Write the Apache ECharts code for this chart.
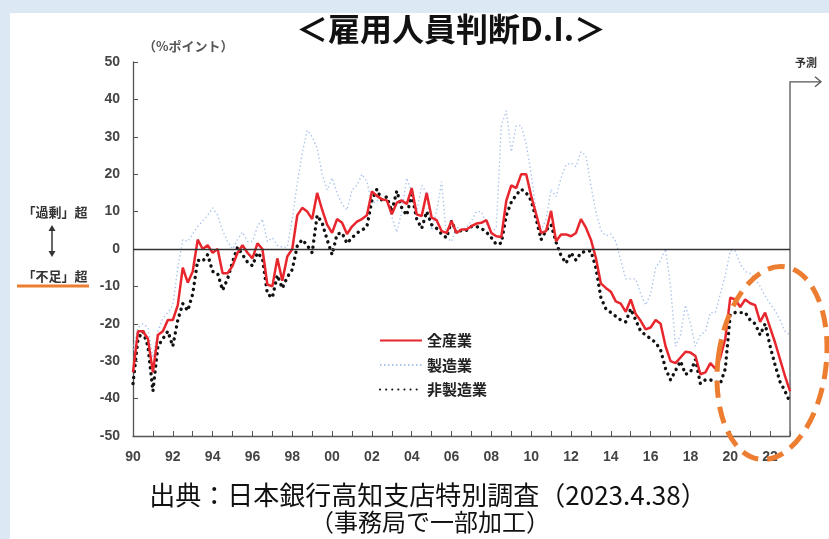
<!DOCTYPE html>
<html><head><meta charset="utf-8">
<script src="https://cdn.jsdelivr.net/npm/echarts@6/dist/echarts.min.js"></script>
<style>
html,body{margin:0;padding:0;background:#dde8f5;}
#panel{position:absolute;left:10px;top:13px;width:819px;height:526px;background:#fff;}
#c{position:absolute;left:0;top:0;width:829px;height:539px;}
</style>
</head><body><div id="panel"></div><div id="c"></div>
<script>
// ---- data ----
const startYear = 1990;
const quarterCount = 133; // 1990Q1 .. 2023Q1
const categories = [];
for (let i = 0; i < quarterCount; i++) {
  categories.push((startYear + Math.floor(i / 4)) + 'Q' + (i % 4 + 1));
}
const yearTickLabels = ['90','92','94','96','98','00','02','04','06','08','10','12','14','16','18','20','22'];
const yTicks = { min: -50, max: 50, step: 10 };
const seriesNames = ['全産業', '製造業', '非製造業'];

const allIndustries = [
 -33,-22,-22,-24, -33,-23,-22,-19, -19,-15,-5,-9, -6,2.5,0,1, -1,0,-6.5,-6.5,
 -4.5,-1,1,-1, -2.5,1.5,0,-9.5, -10,-2.5,-8.5,-2, 0,9,11,10, 8,15,10.5,6.5,
 4.3,8,7,4, 6,7.3,8,9, 15.4,14.2,13.3,13, 9.3,12.4,13,12, 16.3,9.3,8.8,15,
 8.4,7.7,4.8,4.3, 7.5,4.3,5.2,5.2, 6.1,6.8,7,7.7, 4.3,3.4,3.2,12.9, 17,16.3,20,20,
 14.2,9.3,4.3,4.8, 10.2,2.1,3.9,3.9, 3.4,4.3,8,5.7, 2.5,-2.4,-9.2,-10.4, -11.4,-14,-14.6,-16.8,
 -13.5,-17.4,-19.2,-21.5, -21,-19,-20,-26, -30,-30.5,-29,-27.5, -27.7,-28.6,-33.5,-33, -30.5,-32,-29,-24,
 -13,-13.5,-15.5,-13.5, -14.5,-15,-19.5,-17, -21,-25,-29.5,-34, -38
];
const manufacturing = [
 -27,-21,-20,-21, -29,-22,-18.5,-17, -15,-5,2.5,2, 4,6,7.5,9, 11,9,5,2,
 0,2.5,4.5,2, 2,6,8,2, 3,1,0.5,0.5, 8,17.6,25.6,31.8, 30,27,20,15.8,
 19,15,12,10.4, 15.8,17,20,18, 12,13,13,13, 8.6,4.5,10,19, 15,10,17,15,
 5,10,18,3, 2,6,5,5.8, 7.5,10,10,7, 4,6,33,37, 26,33,33,28,
 20,10,5,8, 16,14,19,22.5, 23,22,26,25, 17,10,5,3.5, 4,2,-3,-8,
 -8,-8,-12,-15, -12,-5,-3,0, -10,-26,-23,-15, -20,-26,-23,-22, -17,-17,-12,-7,
 -0.5,-0.5,-4,-6, -6.5,-8,-10,-12.5, -14.7,-16.5,-19,-22, -23
];
const nonManufacturing = [
 -36,-24,-22,-26, -38,-26,-24,-22, -26,-19,-14.6,-16.5, -12,-3,-3.3,-1.5, -6,-6.5,-11,-8,
 -3.5,0.5,-1.5,-3.5, -4.5,-1,-2.5,-12, -13,-7,-10.5,-7.5, -5.5,0.8,2.5,1, -1,9,7,2.5,
 -1.5,4,4.3,1.5, 3,4.3,5,6, 13,16,13,14, 10,15.5,11,9, 14.5,8,5.5,10,
 6.5,5.5,4,3, 7.5,4.3,5,5, 6,6,5.5,4.5, 3,1.2,1.6,9, 12.5,14.5,16,15,
 13,8,2.5,5, 6.5,1.8,-1.8,-3.8, -1,-3,-1,-0.6, -0.5,-5,-13,-16, -17,-18,-19,-19.5,
 -16,-19,-22,-23, -24,-25,-27,-32, -35,-32.5,-30,-33.5, -33,-29.5,-36,-35, -35,-35.5,-36,-32,
 -17.5,-17,-17,-17, -19,-20,-23,-20, -26,-31,-35.5,-38, -41
];

// ---- chart ----
const FONT = '"Noto Sans CJK JP", "Noto Sans", sans-serif';
const NUMFONT = '"Liberation Sans", Arial, sans-serif';
const chart = echarts.init(document.getElementById('c'), null, { renderer: 'canvas' });

const option = {
  backgroundColor: 'transparent',
  animation: false,
  textStyle: { fontFamily: FONT },
  grid: { left: 133, right: 39, top: 62, bottom: 103 },
  legend: {
    orient: 'vertical', left: 374, top: 328, itemWidth: 42, itemHeight: 12, itemGap: 9.5,
    itemStyle: { opacity: 0 },
    textStyle: { fontSize: 15, color: '#222', fontWeight: 'bold', fontFamily: FONT },
    data: seriesNames
  },
  xAxis: {
    type: 'category', data: categories, boundaryGap: false,
    axisLine: { onZero: false, lineStyle: { color: '#555', width: 1.3 } },
    axisTick: { inside: true, length: 5, interval: (i) => i % 4 === 0, lineStyle: { color: '#555' } },
    axisLabel: {
      interval: (i) => i % 8 === 0,
      formatter: (v, i) => yearTickLabels[i / 8],
      color: '#444', fontSize: 14, fontWeight: 'bold', fontFamily: NUMFONT, margin: 14
    },
    splitLine: { show: false }
  },
  yAxis: {
    type: 'value', min: yTicks.min, max: yTicks.max, interval: yTicks.step,
    axisLine: { show: true, lineStyle: { color: '#555', width: 1.3 } },
    axisTick: { show: true, inside: true, length: 5, lineStyle: { color: '#555' } },
    axisLabel: { color: '#444', fontSize: 14, fontWeight: 'bold', fontFamily: NUMFONT, margin: 13 },
    splitLine: { show: false }
  },
  series: [
    {
      name: seriesNames[0], type: 'line', data: allIndustries, symbol: 'none', z: 4,
      itemStyle: { color: '#e8262d' },
      lineStyle: { color: '#e8262d', width: 2.5 }
    },
    {
      name: seriesNames[1], type: 'line', data: manufacturing, symbol: 'none', z: 2,
      itemStyle: { color: '#a9c3ec' },
      lineStyle: { color: '#a9c3ec', width: 1.4, type: [1.4, 2.6] },
      markLine: {
        silent: true, symbol: ['none', 'none'], label: { show: false },
        lineStyle: { color: '#333', width: 1.3, type: 'solid' },
        data: [{ yAxis: 0 }]
      }
    },
    {
      name: seriesNames[2], type: 'line', data: nonManufacturing, symbol: 'none', z: 3,
      itemStyle: { color: '#111' },
      lineStyle: { color: '#111', width: 3.4, type: [0.1, 6], cap: 'round' }
    }
  ]
};
chart.setOption(option);

// annotations positioned from the axes
const xEnd = chart.convertToPixel({ xAxisIndex: 0 }, categories[categories.length - 1]);
const yBottom = chart.convertToPixel({ yAxisIndex: 0 }, yTicks.min);
const yArrow = chart.convertToPixel({ yAxisIndex: 0 }, 44.7);
const orange = '#ed7d31';

chart.setOption({
  graphic: [
    { type: 'text', x: 451, y: 29, style: { text: '＜雇用人員判断D.I.＞', font: 'bold 32px ' + FONT, fill: '#111', align: 'center', verticalAlign: 'middle' } },
    { type: 'text', x: 143, y: 46, style: { text: '（%ポイント）', font: 'bold 13px ' + FONT, fill: '#555', align: 'left', verticalAlign: 'middle' } },
    { type: 'polyline', shape: { points: [[xEnd, yBottom], [xEnd, yArrow], [xEnd + 31, yArrow]] }, style: { stroke: '#555', lineWidth: 1.3, fill: null } },
    { type: 'polyline', shape: { points: [[xEnd + 25, yArrow - 5], [xEnd + 31, yArrow], [xEnd + 25, yArrow + 5]] }, style: { stroke: '#555', lineWidth: 1.3, fill: null } },
    { type: 'text', x: xEnd + 16, y: 63, style: { text: '予測', font: 'bold 11px ' + FONT, fill: '#333', align: 'center', verticalAlign: 'middle' } },
    { type: 'text', x: 55, y: 212, style: { text: '「過剰」超', font: 'bold 13px ' + FONT, fill: '#333', align: 'center', verticalAlign: 'middle' } },
    { type: 'line', shape: { x1: 52, y1: 228, x2: 52, y2: 254 }, style: { stroke: '#333', lineWidth: 1.5 } },
    { type: 'polygon', shape: { points: [[48.5, 231], [52, 225], [55.5, 231]] }, style: { fill: '#333' } },
    { type: 'polygon', shape: { points: [[48.5, 251], [52, 257], [55.5, 251]] }, style: { fill: '#333' } },
    { type: 'text', x: 55, y: 276, style: { text: '「不足」超', font: 'bold 13px ' + FONT, fill: '#333', align: 'center', verticalAlign: 'middle' } },
    { type: 'line', shape: { x1: 17, y1: 286, x2: 89, y2: 286 }, style: { stroke: orange, lineWidth: 3 } },
    { type: 'ellipse', shape: { cx: 772, cy: 363, rx: 54, ry: 97 }, originX: 772, originY: 363, rotation: -0.13,
      style: { stroke: orange, lineWidth: 5, fill: null, lineDash: [17, 9] }, z: 10 },
    { type: 'text', x: 428, y: 495, style: { text: '出典：日本銀行高知支店特別調査（2023.4.38）', font: '26px ' + FONT, fill: '#111', align: 'center', verticalAlign: 'middle' } },
    { type: 'text', x: 430, y: 522, style: { text: '（事務局で一部加工）', font: '24px ' + FONT, fill: '#111', align: 'center', verticalAlign: 'middle' } }
  ]
});
</script>
</body></html>
